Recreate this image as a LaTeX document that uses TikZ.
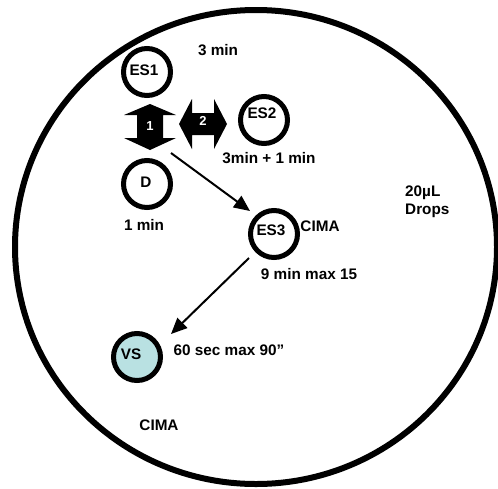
\documentclass[tikz,border=0pt]{standalone}
\usepackage{fontspec}
\setmainfont{Liberation Sans}
\usetikzlibrary{arrows.meta}

\definecolor{vsfill}{RGB}{185,225,226}

\tikzset{
  lbl/.style={font=\fontsize{15.3}{17}\selectfont\bfseries, inner sep=0pt},
  drop/.style={circle, draw=black, line width=5pt, minimum size=47pt, inner sep=0pt},
  blockarrow/.style={fill=black, draw=none},
  flow/.style={line width=2pt, -{Triangle[length=16pt,width=14pt]}},
  numlbl/.style={font=\fontsize{13}{15}\selectfont\bfseries, text=white, inner sep=0pt}
}

\begin{document}
\begin{tikzpicture}[x=1pt, y=-1pt]
  \useasboundingbox (0,0) rectangle (498,488);
  \begin{scope}
    \clip (0,0) rectangle (498,488);
    % the dish
    \draw[line width=6pt] (256,247) ellipse [x radius=241, y radius=237];
  \end{scope}

  % drops
  \node[drop] (es1) at (147,72) {};
  \node[drop] (es2) at (264,120) {};
  \node[drop] (d)   at (147,184) {};
  \node[drop] (es3) at (274,234) {};
  \node[drop, fill=vsfill] (vs) at (137,357) {};

  \node[lbl] (es1t) at (144,70) {ES1};
  \node[lbl] (es2t) at (262,113) {ES2};
  \node[lbl] (dt)   at (146,182) {D};
  \node[lbl] (es3t) at (271,230) {ES3};
  \node[lbl] (vst)  at (131,354) {VS};

  % block arrow 1 (vertical, double headed)
  \fill[blockarrow] (150,104) -- (176,115) -- (163,115) -- (163,138) -- (176,138)
    -- (150,150) -- (124,138) -- (137,138) -- (137,115) -- (124,115) -- cycle;
  \node[numlbl] (n1) at (150,126) {1};

  % block arrow 2 (horizontal, double headed)
  \fill[blockarrow] (179,124) -- (192,99) -- (192,113) -- (214,113) -- (214,99)
    -- (227,124) -- (214,149) -- (214,135) -- (192,135) -- (192,149) -- cycle;
  \node[numlbl] (n2) at (203,121) {2};

  % flow arrows
  \coordinate (a1s) at (171,153);
  \coordinate (a1e) at (250,211);
  \coordinate (a2s) at (249,258);
  \coordinate (a2e) at (171,334);
  \draw[flow] (a1s) -- (a1e);
  \draw[flow] (a2s) -- (a2e);

  % timings and notes
  \node[lbl] (t3)   at (218,50)  {3 min};
  \node[lbl] (t31)  at (269,158) {3min + 1 min};
  \node[lbl] (t1)   at (144,225) {1 min};
  \node[lbl] (c1)   at (320,226) {CIMA};
  \node[lbl] (t9)   at (309,274) {9 min max 15};
  \node[lbl, anchor=west] (ul)  at (405,193) {20µL};
  \node[lbl, anchor=west] (dr)  at (405,211) {Drops};
  \node[lbl] (t60)  at (229,350) {60 sec max 90”};
  \node[lbl] (c2)   at (159,425) {CIMA};
\end{tikzpicture}
\end{document}
